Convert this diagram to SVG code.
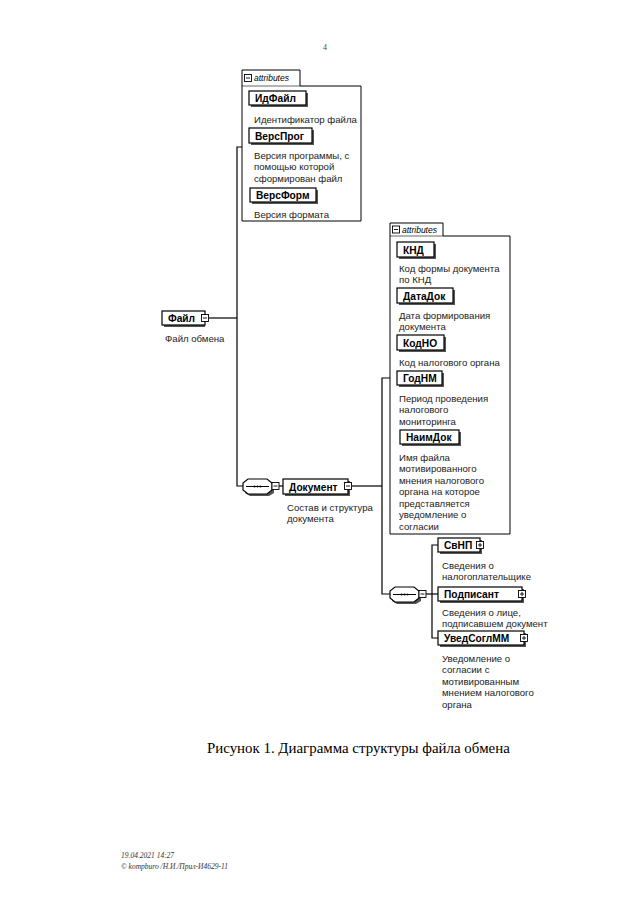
<svg xmlns="http://www.w3.org/2000/svg" width="640" height="905" viewBox="0 0 640 905">
<defs>
<style>
.bg{fill:#fff}
.box{fill:#fff;stroke:#000;stroke-width:1.2}
.sh{fill:#555}
.nm{font-family:"Liberation Sans",Arial,sans-serif;font-weight:bold;font-size:10.2px;fill:#000}
.ds{font-family:"Liberation Sans",Arial,sans-serif;font-size:9.6px;fill:#222}
.at{font-family:"Liberation Sans",Arial,sans-serif;font-style:italic;font-size:8.5px;fill:#000}
.grp{fill:#fff;stroke:#000;stroke-width:1}
.ln{fill:none;stroke:#000;stroke-width:1.2}
.ic{fill:#fff;stroke:#000;stroke-width:0.9}
.cap{font-family:"Liberation Serif","Times New Roman",serif;font-size:14.9px;fill:#000}
.ft{font-family:"Liberation Serif","Times New Roman",serif;font-style:italic;font-size:7.5px;fill:#333}
</style>
<g id="minus"><rect class="ic" x="-3.5" y="-3.5" width="7" height="7"/><line x1="-2" y1="0" x2="2" y2="0" stroke="#000" stroke-width="0.9"/></g>
<g id="plus"><rect class="ic" x="-3.5" y="-3.5" width="7" height="7"/><line x1="-2" y1="0" x2="2" y2="0" stroke="#000" stroke-width="0.9"/><line x1="0" y1="-2" x2="0" y2="2" stroke="#000" stroke-width="0.9"/></g>
<g id="seq"><polygon class="sh" points="7,2 26,2 31,7 31,14 26,17 7,17 2,14 2,7"/><polygon class="box" points="5,0 24,0 29,4 29,11 24,15 5,15 0,11 0,4"/><line x1="3" y1="7.5" x2="26" y2="7.5" stroke="#000" stroke-width="1"/><circle cx="11.5" cy="7.5" r="1" fill="#000"/><circle cx="14.5" cy="7.5" r="1" fill="#000"/><circle cx="17.5" cy="7.5" r="1" fill="#000"/></g>
</defs>
<rect class="bg" x="0" y="0" width="640" height="905"/>
<text x="323" y="50" font-family="Liberation Serif, serif" font-size="8" fill="#444">4</text>

<g id="connectors">
<polyline class="ln" points="209,318 237,318"/>
<polyline class="ln" points="242,147 237,147 237,486 243,486"/>
<polyline class="ln" points="275.5,486 283,486"/>
<polyline class="ln" points="352,486 382,486"/>
<polyline class="ln" points="390,378 382,378 382,594 390,594"/>
<polyline class="ln" points="422.5,594 438,594"/>
<polyline class="ln" points="438,545 432,545 432,638 438,638"/>
</g>

<g id="attrs1">
<path class="grp" d="M242,86 L242,70 L300,70 L300,86 L361,86 L361,221 L242,221 Z"/>
<line x1="242" y1="86" x2="300" y2="86" stroke="#000" stroke-width="0.6"/>
<use href="#minus" x="248" y="78"/>
<text class="at" x="254" y="81">attributes</text>
</g>
<g id="ИдФайл">
<rect class="sh" x="251" y="93" width="57" height="14"/>
<rect class="box" x="249" y="91" width="57" height="14"/>
<text class="nm" x="255" y="102">ИдФайл</text>
<text class="ds" x="254" y="122.5">Идентификатор файла</text>
</g>
<g id="ВерсПрог">
<rect class="sh" x="251" y="130" width="63" height="15"/>
<rect class="box" x="249" y="128" width="63" height="15"/>
<text class="nm" x="255" y="139.5">ВерсПрог</text>
<text class="ds" x="254" y="158.5">Версия программы, с</text>
<text class="ds" x="254" y="170">помощью которой</text>
<text class="ds" x="254" y="181.5">сформирован файл</text>
</g>
<g id="ВерсФорм">
<rect class="sh" x="252" y="190" width="66" height="14"/>
<rect class="box" x="250" y="188" width="66" height="14"/>
<text class="nm" x="256" y="199">ВерсФорм</text>
<text class="ds" x="254" y="218">Версия формата</text>
</g>

<g id="Файл">
<rect class="sh" x="164" y="313" width="41" height="14"/>
<rect class="box" x="162" y="311" width="43" height="14"/>
<text class="nm" x="168" y="322">Файл</text>
<use href="#minus" x="205" y="318"/>
<text class="ds" x="165" y="341.5">Файл обмена</text>
</g>

<g id="seq1"><use href="#seq" x="243" y="479"/><use href="#minus" x="275.5" y="486"/></g>

<g id="Документ">
<rect class="sh" x="285" y="481" width="65" height="15"/>
<rect class="box" x="283" y="479" width="65" height="15"/>
<text class="nm" x="289" y="490.5">Документ</text>
<use href="#minus" x="348" y="486"/>
<text class="ds" x="287" y="510.5">Состав и структура</text>
<text class="ds" x="287" y="522">документа</text>
</g>

<g id="attrs2">
<path class="grp" d="M390,236 L390,223 L443,223 L443,236 L510,236 L510,534 L390,534 Z"/>
<line x1="390" y1="236" x2="443" y2="236" stroke="#000" stroke-width="0.6"/>
<use href="#minus" x="396" y="229.5"/>
<text class="at" x="402" y="232.5">attributes</text>
</g>
<g id="КНД">
<rect class="sh" x="399" y="244" width="37" height="15"/>
<rect class="box" x="397" y="242" width="37" height="15"/>
<text class="nm" x="403" y="253.5">КНД</text>
<text class="ds" x="399" y="271.5">Код формы документа</text>
<text class="ds" x="399" y="283">по КНД</text>
</g>
<g id="ДатаДок">
<rect class="sh" x="399" y="290" width="56" height="15"/>
<rect class="box" x="397" y="288" width="56" height="15"/>
<text class="nm" x="403" y="299.5">ДатаДок</text>
<text class="ds" x="399" y="318.5">Дата формирования</text>
<text class="ds" x="399" y="330">документа</text>
</g>
<g id="КодНО">
<rect class="sh" x="399" y="337" width="47" height="15"/>
<rect class="box" x="397" y="335" width="47" height="15"/>
<text class="nm" x="403" y="346.5">КодНО</text>
<text class="ds" x="399" y="365.5">Код налогового органа</text>
</g>
<g id="ГодНМ">
<rect class="sh" x="399" y="373" width="45" height="14"/>
<rect class="box" x="397" y="371" width="45" height="14"/>
<text class="nm" x="403" y="382">ГодНМ</text>
<text class="ds" x="399" y="401.5">Период проведения</text>
<text class="ds" x="399" y="413">налогового</text>
<text class="ds" x="399" y="424.5">мониторинга</text>
</g>
<g id="НаимДок">
<rect class="sh" x="402" y="432" width="59" height="14"/>
<rect class="box" x="400" y="430" width="59" height="14"/>
<text class="nm" x="406" y="441">НаимДок</text>
<text class="ds" x="399" y="460.5">Имя файла</text>
<text class="ds" x="399" y="472">мотивированного</text>
<text class="ds" x="399" y="483.5">мнения налогового</text>
<text class="ds" x="399" y="495">органа на которое</text>
<text class="ds" x="399" y="506.5">представляется</text>
<text class="ds" x="399" y="518">уведомление о</text>
<text class="ds" x="399" y="529.5">согласии</text>
</g>

<g id="seq2"><use href="#seq" x="390" y="587"/><use href="#minus" x="422.5" y="594"/></g>

<g id="СвНП">
<rect class="sh" x="440" y="540" width="42" height="14"/>
<rect class="box" x="438" y="538" width="42" height="14"/>
<text class="nm" x="444" y="549">СвНП</text>
<use href="#plus" x="480" y="545"/>
<text class="ds" x="442" y="568.5">Сведения о</text>
<text class="ds" x="442" y="580">налогоплательщике</text>
</g>
<g id="Подписант">
<rect class="sh" x="440" y="589" width="84" height="14"/>
<rect class="box" x="438" y="587" width="84" height="14"/>
<text class="nm" x="444" y="598">Подписант</text>
<use href="#plus" x="522" y="594"/>
<text class="ds" x="442" y="615.5">Сведения о лице,</text>
<text class="ds" x="442" y="627">подписавшем документ</text>
</g>
<g id="УведСоглММ">
<rect class="sh" x="440" y="633" width="86" height="14"/>
<rect class="box" x="438" y="631" width="86" height="14"/>
<text class="nm" x="444" y="642">УведСоглММ</text>
<use href="#plus" x="524" y="638"/>
<text class="ds" x="442" y="661.5">Уведомление о</text>
<text class="ds" x="442" y="673">согласии с</text>
<text class="ds" x="442" y="684.5">мотивированным</text>
<text class="ds" x="442" y="696">мнением налогового</text>
<text class="ds" x="442" y="707.5">органа</text>
</g>

<text class="cap" x="207" y="753">Рисунок 1. Диаграмма структуры файла обмена</text>
<text class="ft" x="121" y="858">19.04.2021 14:27</text>
<text class="ft" x="121" y="869">© kompburo /Н.И./Прил-И4629-11</text>
</svg>
